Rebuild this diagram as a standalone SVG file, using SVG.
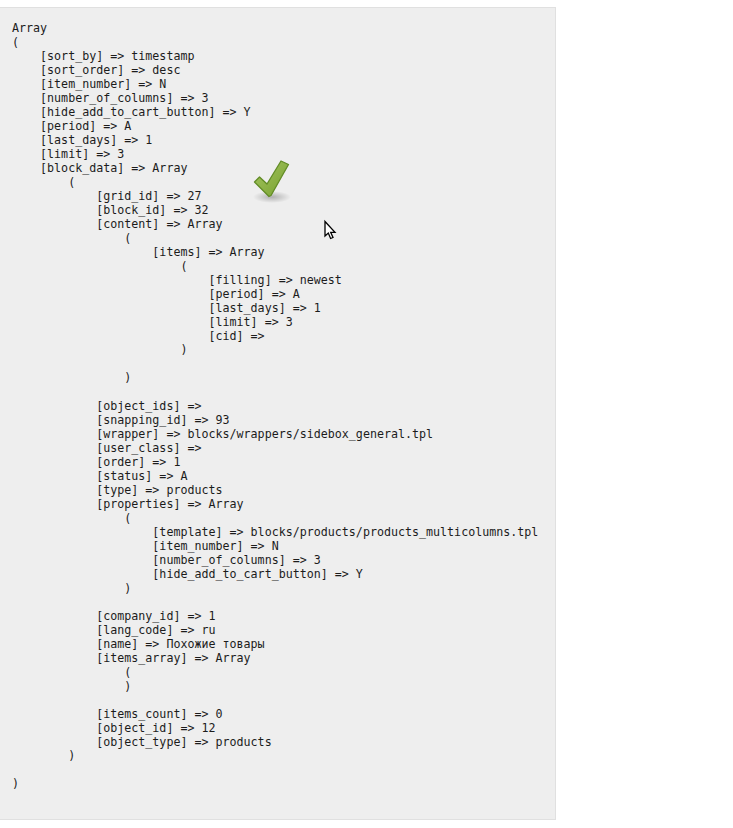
<svg xmlns="http://www.w3.org/2000/svg" width="733" height="828" viewBox="0 0 733 828">
<defs>
<style>
text{font-family:"DejaVu Sans Mono","Liberation Mono",monospace;font-size:11.66px;fill:#1c1c1c;white-space:pre}
</style>
<linearGradient id="chk" x1="0" y1="0" x2="1" y2="1"><stop offset="0" stop-color="#a6c662"/><stop offset="1" stop-color="#76a02e"/></linearGradient>
<radialGradient id="sh"><stop offset="0" stop-color="#000" stop-opacity=".26"/><stop offset="1" stop-color="#000" stop-opacity="0"/></radialGradient>
</defs>
<rect width="733" height="828" fill="#fff"/>
<rect x="-2" y="7.500" width="557.500" height="812" fill="#eee" stroke="#e0e0e0"/>
<ellipse cx="272" cy="197" rx="19" ry="6" fill="url(#sh)"/>
<path d="M254.500 182 L259.500 177 L267 184 L281 161 L288.500 164.500 L271 195.500 L269 196.500Z" fill="url(#chk)" stroke="#628c26" stroke-width="1.300" stroke-linejoin="round"/>
<path d="M325 221.500V236l3.300-3 2.300 5.500 2.400-1-2.300-5.200h4.300Z" fill="#fff" stroke="#000" stroke-width="1.300"/>
<text x="12" y="32">Array</text>
<text x="12" y="46">(</text>
<text x="12" y="60">    [sort_by] =&gt; timestamp</text>
<text x="12" y="74">    [sort_order] =&gt; desc</text>
<text x="12" y="88">    [item_number] =&gt; N</text>
<text x="12" y="102">    [number_of_columns] =&gt; 3</text>
<text x="12" y="116">    [hide_add_to_cart_button] =&gt; Y</text>
<text x="12" y="130">    [period] =&gt; A</text>
<text x="12" y="144">    [last_days] =&gt; 1</text>
<text x="12" y="158">    [limit] =&gt; 3</text>
<text x="12" y="172">    [block_data] =&gt; Array</text>
<text x="12" y="186">        (</text>
<text x="12" y="200">            [grid_id] =&gt; 27</text>
<text x="12" y="214">            [block_id] =&gt; 32</text>
<text x="12" y="228">            [content] =&gt; Array</text>
<text x="12" y="242">                (</text>
<text x="12" y="256">                    [items] =&gt; Array</text>
<text x="12" y="270">                        (</text>
<text x="12" y="284">                            [filling] =&gt; newest</text>
<text x="12" y="298">                            [period] =&gt; A</text>
<text x="12" y="312">                            [last_days] =&gt; 1</text>
<text x="12" y="326">                            [limit] =&gt; 3</text>
<text x="12" y="340">                            [cid] =&gt; </text>
<text x="12" y="353">                        )</text>
<text x="12" y="381">                )</text>
<text x="12" y="410">            [object_ids] =&gt; </text>
<text x="12" y="424">            [snapping_id] =&gt; 93</text>
<text x="12" y="438">            [wrapper] =&gt; blocks/wrappers/sidebox_general.tpl</text>
<text x="12" y="452">            [user_class] =&gt; </text>
<text x="12" y="466">            [order] =&gt; 1</text>
<text x="12" y="480">            [status] =&gt; A</text>
<text x="12" y="494">            [type] =&gt; products</text>
<text x="12" y="508">            [properties] =&gt; Array</text>
<text x="12" y="522">                (</text>
<text x="12" y="536">                    [template] =&gt; blocks/products/products_multicolumns.tpl</text>
<text x="12" y="550">                    [item_number] =&gt; N</text>
<text x="12" y="564">                    [number_of_columns] =&gt; 3</text>
<text x="12" y="578">                    [hide_add_to_cart_button] =&gt; Y</text>
<text x="12" y="592">                )</text>
<text x="12" y="620">            [company_id] =&gt; 1</text>
<text x="12" y="634">            [lang_code] =&gt; ru</text>
<text x="12" y="648">            [name] =&gt; Похожие товары</text>
<text x="12" y="662">            [items_array] =&gt; Array</text>
<text x="12" y="676">                (</text>
<text x="12" y="690">                )</text>
<text x="12" y="718">            [items_count] =&gt; 0</text>
<text x="12" y="732">            [object_id] =&gt; 12</text>
<text x="12" y="746">            [object_type] =&gt; products</text>
<text x="12" y="759">        )</text>
<text x="12" y="787">)</text>
</svg>
